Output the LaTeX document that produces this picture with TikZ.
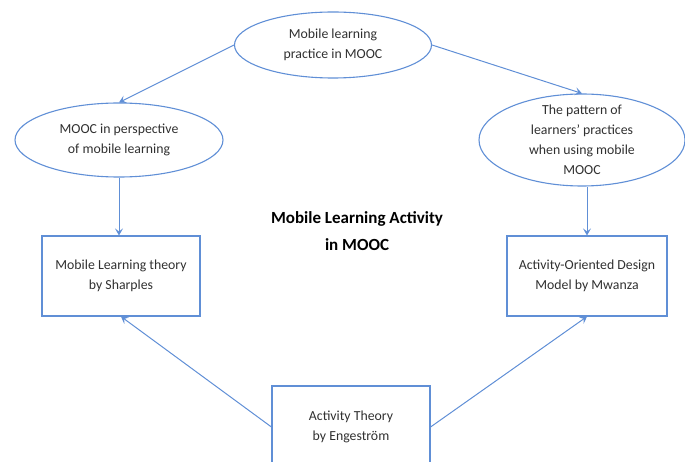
\documentclass[tikz,border=0pt]{standalone}
\usepackage{fontspec}
\setmainfont{Carlito}
\usetikzlibrary{shapes.geometric,arrows.meta}
\definecolor{lineBlue}{RGB}{96,143,214}
\definecolor{textGray}{RGB}{48,48,48}
\tikzstyle{ovalNode}=[shape = ellipse, draw = lineBlue, line width = 1.1pt, inner xsep = -6pt, inner ysep = -9pt, align = center, text = textGray, font = \fontsize{13.8}{20}\selectfont]
\tikzstyle{boxNode}=[shape = rectangle, draw = lineBlue, line width = 1.1pt, inner sep = 0pt, align = center, text = textGray, font = \fontsize{13.8}{20}\selectfont]
\tikzstyle{arrowEdge}=[draw = lineBlue, line width = 1pt, -{Stealth[length = 7pt, width = 8pt, inset = 3pt]}]

\begin{document}
\begin{tikzpicture}[x = 1pt, y = -1pt]
\useasboundingbox (0,0) rectangle (685,462);
\clip (0,0) rectangle (685,462);
\node[style = ovalNode, minimum width = 197pt, minimum height = 66pt] (e0) at (333,45) {Mobile learning\\practice in MOOC};
\node[style = ovalNode, minimum width = 208pt, minimum height = 74pt] (e1) at (119,140) {MOOC in perspective\\of mobile learning};
\node[style = ovalNode, minimum width = 206pt, minimum height = 92pt] (e2) at (582,140) {The pattern of\\learners’ practices\\when using mobile\\MOOC};
\node[style = boxNode, minimum width = 158pt, minimum height = 80pt] (b0) at (121,276) {Mobile Learning theory\\by Sharples};
\node[style = boxNode, minimum width = 160pt, minimum height = 80pt] (b1) at (587,276) {Activity-Oriented Design\\Model by Mwanza};
\node[style = boxNode, minimum width = 158pt, minimum height = 82pt] (b2) at (351,427) {Activity Theory\\by Engeström};
\node[align = center, font = \fontsize{17}{27}\selectfont\bfseries, text = black] (t0) at (357,231) {Mobile Learning Activity\\in MOOC};
\draw[style = arrowEdge] (e0.west) -- (e1.north);
\draw[style = arrowEdge] (e0.east) -- (e2.north);
\draw[style = arrowEdge] (e1.south) -- (e1.south |- b0.north);
\draw[style = arrowEdge] (b1.north |- e2.south) -- (b1.north);
\draw[style = arrowEdge] (b2.west) -- (b0.south);
\draw[style = arrowEdge] (b2.east) -- (b1.south);
\end{tikzpicture}
\end{document}
